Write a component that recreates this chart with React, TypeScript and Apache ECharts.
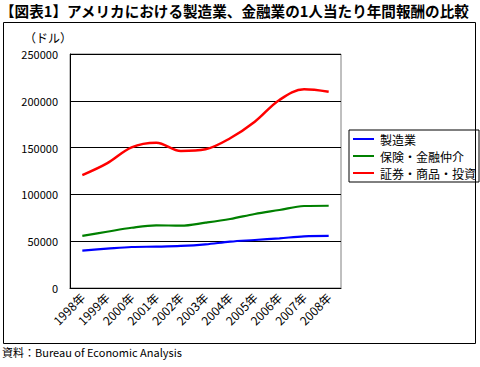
import React, { useEffect, useRef } from "react";
import * as echarts from "echarts";

const categories = ["1998年", "1999年", "2000年", "2001年", "2002年", "2003年", "2004年", "2005年", "2006年", "2007年", "2008年"];
const manufacturing = [40000, 42000, 43800, 44200, 44900, 46600, 49500, 51300, 53100, 55200, 55600];
const insurance = [55600, 60100, 64400, 67000, 66600, 69800, 73700, 79100, 83300, 87600, 87900];
const securities = [120700, 133200, 150300, 155200, 146400, 148200, 160000, 177700, 200900, 212300, 209700];
const seriesNames = ["製造業", "保険・金融仲介", "証券・商品・投資"];
const seriesColors = ["#0000ff", "#008000", "#ff0000"];

const FONT = "'Noto Sans CJK JP', sans-serif";

export default function App() {
  const ref = useRef<HTMLDivElement>(null);
  useEffect(() => {
    document.body.style.margin = "0";
    if (!ref.current) return;
    const chart = echarts.init(ref.current, null, { renderer: "svg" });
    const data = [manufacturing, insurance, securities];
    chart.setOption({
      animation: false,
      backgroundColor: "#ffffff",
      textStyle: { fontFamily: FONT, color: "#000" },
      title: [
        {
          text: "【図表1】アメリカにおける製造業、金融業の1人当たり年間報酬の比較",
          left: 0,
          top: 3,
          padding: 0,
          textStyle: { fontSize: 14.6, fontWeight: "bold", color: "#000", fontFamily: FONT },
        },
        {
          text: "資料：Bureau of Economic Analysis",
          left: 2,
          top: 346,
          padding: 0,
          textStyle: { fontSize: 11, fontWeight: "normal", color: "#000", fontFamily: FONT },
        },
      ],
      graphic: [
        {
          type: "rect",
          shape: { x: 3.5, y: 22.5, width: 472, height: 321 },
          style: { fill: "none", stroke: "#000", lineWidth: 1 },
          silent: true,
        },
        {
          type: "text",
          x: 24,
          y: 31,
          style: { text: "（ドル）", font: `12px ${FONT}`, fill: "#000" },
          silent: true,
        },
      ],
      legend: {
        orient: "vertical",
        left: 349,
        top: 130,
        padding: [3, 3, 3, 4],
        borderColor: "#000",
        borderWidth: 1,
        itemWidth: 21,
        itemHeight: 2,
        itemGap: 5,
        icon: "rect",
        textStyle: { fontSize: 12, lineHeight: 12, color: "#000", fontFamily: FONT, padding: [0, 0, 0, 1] },
        data: seriesNames,
      },
      grid: {
        left: 70,
        top: 54,
        width: 271,
        height: 234,
        show: true,
        borderColor: "#808080",
        borderWidth: 1,
        containLabel: false,
      },
      xAxis: {
        type: "category",
        data: categories,
        boundaryGap: true,
        axisLine: { lineStyle: { color: "#000", width: 1 } },
        axisTick: { inside: true, length: 3, lineStyle: { color: "#000" } },
        axisLabel: { rotate: 45, fontSize: 12, color: "#000", margin: 7, fontFamily: FONT, interval: 0 },
        splitLine: { show: false },
      },
      yAxis: {
        type: "value",
        min: 0,
        max: 250000,
        interval: 50000,
        axisLine: { show: true, lineStyle: { color: "#000", width: 1 } },
        axisTick: { show: false },
        axisLabel: { fontSize: 11, color: "#000", margin: 12, fontFamily: FONT, formatter: (v: number) => String(v) },
        splitLine: { lineStyle: { color: "#000", width: 1 } },
      },
      series: seriesNames.map((name, i) => ({
        name,
        type: "line",
        data: data[i],
        smooth: 0.35,
        symbol: "none",
        lineStyle: { color: seriesColors[i], width: i === 2 ? 2.5 : 2.2 },
        itemStyle: { color: seriesColors[i] },
      })),
    });
    return () => chart.dispose();
  }, []);
  return <div ref={ref} style={{ width: 480, height: 367 }} />;
}
